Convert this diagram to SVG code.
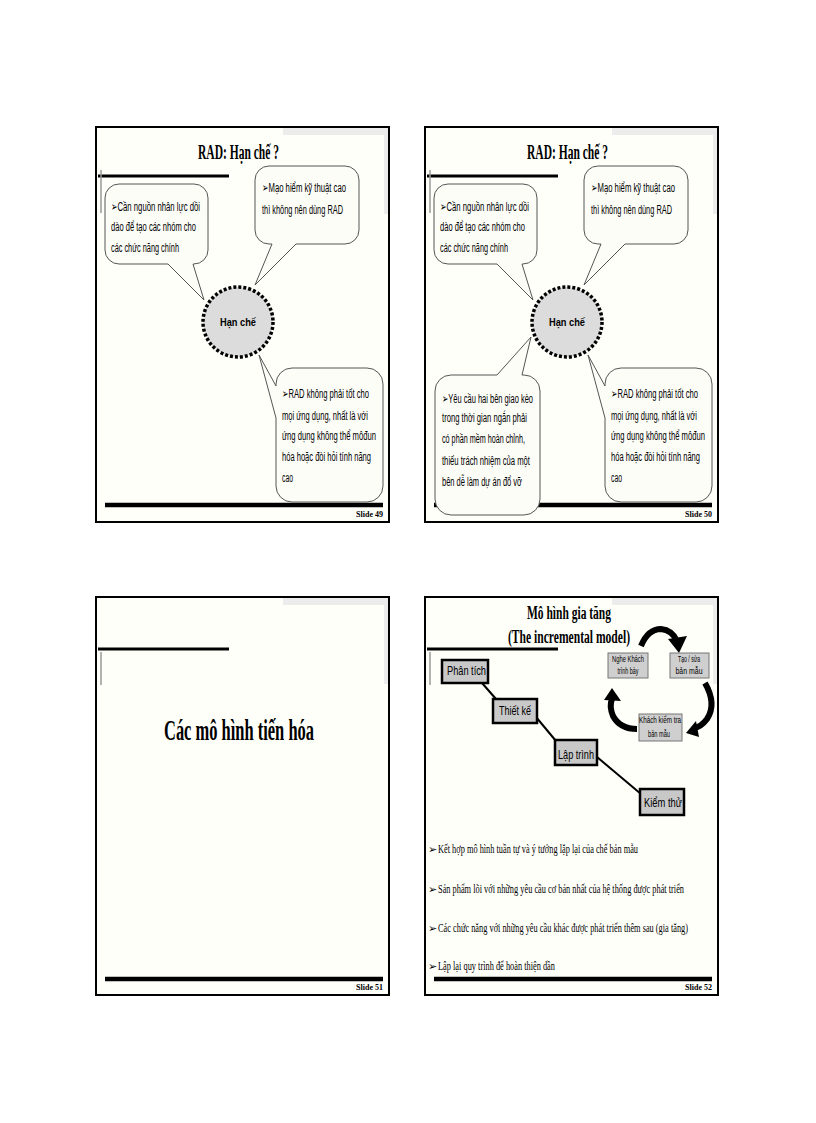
<svg xmlns="http://www.w3.org/2000/svg" width="816" height="1123" viewBox="0 0 816 1123">
<style>
.frame{fill:#fffffa;stroke:#000;stroke-width:2}
.tex{fill:#ececec}
.topline{stroke:#000;stroke-width:3}
.vline{stroke:#9a9a9a;stroke-width:1.5}
.foot{stroke:#000;stroke-width:4.5}
.slideno{font-family:"Liberation Serif",serif;font-weight:bold;font-size:8px;fill:#000}
.title{font-family:"Liberation Serif",serif;font-weight:bold;fill:#000}
.call{fill:#fdfdf8;stroke:#555;stroke-width:1}
.ct{font-family:"Liberation Sans","DejaVu Sans",sans-serif;font-size:12.5px;fill:#000}
.hub{fill:#dcdcdc;stroke:#000;stroke-width:3.5;stroke-dasharray:3 2}
.hubt{font-family:"Liberation Sans",sans-serif;font-weight:bold;font-size:11px;fill:#000}
.step{fill:#c8c8c8;stroke:#000;stroke-width:2.5}
.stept{font-family:"Liberation Sans",sans-serif;font-size:13px;fill:#000}
.cyc{fill:#cfcfcf;stroke:#777;stroke-width:1}
.cyct{font-family:"Liberation Sans",sans-serif;font-size:8.5px;fill:#000}
.conn{stroke:#000;stroke-width:2;fill:none}
.arc{stroke:#000;stroke-width:6;fill:none}
.bul{font-family:"Liberation Serif","DejaVu Serif",serif;font-size:12.5px;fill:#000}
.bm{font-family:"DejaVu Sans",sans-serif;font-size:11px;fill:#000}
</style>

<!-- Slide 49 -->
<g id="slide49">
  <rect class="frame" x="96" y="127" width="293" height="395"/>
  <rect class="tex" x="283" y="128" width="105" height="7"/>
  <rect class="tex" x="384" y="128" width="4" height="86"/>
  <line class="topline" x1="98" y1="176" x2="229" y2="176"/>
  <line class="vline" x1="101" y1="170" x2="101" y2="213"/>
  <text class="title" x="198" y="159" font-size="20" textLength="81" lengthAdjust="spacingAndGlyphs">RAD: Hạn chế ?</text>
  <line class="foot" x1="105" y1="505" x2="383" y2="505"/>
  <text class="slideno" x="383" y="517" text-anchor="end">Slide 49</text>
</g>
<g id="s49-callout-left">
  <path class="call" d="M119,184 H194 A14 14 0 0 1 208,198 V250 A14 14 0 0 1 194,264 H193 L204,300 L168,264 H119 A14 14 0 0 1 105,250 V198 A14 14 0 0 1 119,184 Z"/>
  <text class="ct" x="111" y="211" textLength="89" lengthAdjust="spacingAndGlyphs">➢Cần nguồn nhân lực dồi</text>
  <text class="ct" x="111" y="231" textLength="85" lengthAdjust="spacingAndGlyphs">dào để tạo các nhóm cho</text>
  <text class="ct" x="111" y="252" textLength="68" lengthAdjust="spacingAndGlyphs">các chức năng chính</text>
</g>
<g id="s49-callout-top">
  <path class="call" d="M269,166 H345 A14 14 0 0 1 359,180 V230 A14 14 0 0 1 345,244 H296 L255,285 L272,244 H269 A14 14 0 0 1 255,230 V180 A14 14 0 0 1 269,166 Z"/>
  <text class="ct" x="262" y="192" textLength="84" lengthAdjust="spacingAndGlyphs">➢Mạo hiểm kỹ thuật cao</text>
  <text class="ct" x="262" y="214" textLength="81" lengthAdjust="spacingAndGlyphs">thì không nên dùng RAD</text>
</g>
<g id="s49-callout-right">
  <path class="call" d="M292,368 H367 A16 16 0 0 1 383,384 V486 A16 16 0 0 1 367,502 H292 A16 16 0 0 1 276,486 V418 L259,355 L276,386 V384 A16 16 0 0 1 292,368 Z"/>
  <text class="ct" x="282" y="398" textLength="87" lengthAdjust="spacingAndGlyphs">➢RAD không phải tốt cho</text>
  <text class="ct" x="282" y="420" textLength="86" lengthAdjust="spacingAndGlyphs">mọi ứng dụng, nhất là với</text>
  <text class="ct" x="282" y="440" textLength="94" lengthAdjust="spacingAndGlyphs">ứng dụng không thể môđun</text>
  <text class="ct" x="282" y="461" textLength="89" lengthAdjust="spacingAndGlyphs">hóa hoặc đòi hỏi tính năng</text>
  <text class="ct" x="282" y="482" textLength="11" lengthAdjust="spacingAndGlyphs">cao</text>
</g>
<g id="s49-hub">
  <circle class="hub" cx="238" cy="322" r="35"/>
  <text class="hubt" x="238" y="326" text-anchor="middle" textLength="36" lengthAdjust="spacingAndGlyphs">Hạn chế</text>
</g>

<!-- Slide 50 -->
<g id="slide50">
  <rect class="frame" x="425" y="127" width="293" height="395"/>
  <rect class="tex" x="612" y="128" width="105" height="7"/>
  <rect class="tex" x="713" y="128" width="4" height="86"/>
  <line class="topline" x1="427" y1="176" x2="558" y2="176"/>
  <line class="vline" x1="430" y1="170" x2="430" y2="213"/>
  <text class="title" x="527" y="159" font-size="20" textLength="81" lengthAdjust="spacingAndGlyphs">RAD: Hạn chế ?</text>
  <line class="foot" x1="434" y1="505" x2="712" y2="505"/>
  <text class="slideno" x="712" y="517" text-anchor="end">Slide 50</text>
</g>
<g id="s50-callout-left">
  <path class="call" d="M448,184 H523 A14 14 0 0 1 537,198 V250 A14 14 0 0 1 523,264 H522 L533,300 L497,264 H448 A14 14 0 0 1 434,250 V198 A14 14 0 0 1 448,184 Z"/>
  <text class="ct" x="440" y="211" textLength="89" lengthAdjust="spacingAndGlyphs">➢Cần nguồn nhân lực dồi</text>
  <text class="ct" x="440" y="231" textLength="85" lengthAdjust="spacingAndGlyphs">dào để tạo các nhóm cho</text>
  <text class="ct" x="440" y="252" textLength="68" lengthAdjust="spacingAndGlyphs">các chức năng chính</text>
</g>
<g id="s50-callout-top">
  <path class="call" d="M598,166 H674 A14 14 0 0 1 688,180 V230 A14 14 0 0 1 674,244 H625 L584,285 L601,244 H598 A14 14 0 0 1 584,230 V180 A14 14 0 0 1 598,166 Z"/>
  <text class="ct" x="591" y="192" textLength="84" lengthAdjust="spacingAndGlyphs">➢Mạo hiểm kỹ thuật cao</text>
  <text class="ct" x="591" y="214" textLength="81" lengthAdjust="spacingAndGlyphs">thì không nên dùng RAD</text>
</g>
<g id="s50-callout-right">
  <path class="call" d="M621,368 H696 A16 16 0 0 1 712,384 V486 A16 16 0 0 1 696,502 H621 A16 16 0 0 1 605,486 V418 L588,355 L605,386 V384 A16 16 0 0 1 621,368 Z"/>
  <text class="ct" x="611" y="398" textLength="87" lengthAdjust="spacingAndGlyphs">➢RAD không phải tốt cho</text>
  <text class="ct" x="611" y="420" textLength="86" lengthAdjust="spacingAndGlyphs">mọi ứng dụng, nhất là với</text>
  <text class="ct" x="611" y="440" textLength="94" lengthAdjust="spacingAndGlyphs">ứng dụng không thể môđun</text>
  <text class="ct" x="611" y="461" textLength="89" lengthAdjust="spacingAndGlyphs">hóa hoặc đòi hỏi tính năng</text>
  <text class="ct" x="611" y="482" textLength="11" lengthAdjust="spacingAndGlyphs">cao</text>
</g>
<g id="s50-callout-bottom">
  <path class="call" d="M451,375 H497 L531,337 L522,375 H524 A16 16 0 0 1 540,391 V499 A16 16 0 0 1 524,515 H451 A16 16 0 0 1 435,499 V391 A16 16 0 0 1 451,375 Z"/>
  <text class="ct" x="442" y="403" textLength="91" lengthAdjust="spacingAndGlyphs">➢Yêu cầu hai bên giao kèo</text>
  <text class="ct" x="442" y="422" textLength="85" lengthAdjust="spacingAndGlyphs">trong thời gian ngắn phải</text>
  <text class="ct" x="442" y="443" textLength="83" lengthAdjust="spacingAndGlyphs">có phần mềm hoàn chỉnh,</text>
  <text class="ct" x="442" y="465" textLength="88" lengthAdjust="spacingAndGlyphs">thiếu trách nhiệm của một</text>
  <text class="ct" x="442" y="486" textLength="80" lengthAdjust="spacingAndGlyphs">bên dễ làm dự án đổ vỡ</text>
</g>
<g id="s50-hub">
  <circle class="hub" cx="567" cy="322" r="35"/>
  <text class="hubt" x="567" y="326" text-anchor="middle" textLength="36" lengthAdjust="spacingAndGlyphs">Hạn chế</text>
</g>

<!-- Slide 51 -->
<g id="slide51">
  <rect class="frame" x="96" y="597" width="293" height="398"/>
  <rect class="tex" x="283" y="598" width="105" height="7"/>
  <rect class="tex" x="384" y="598" width="4" height="86"/>
  <line class="topline" x1="98" y1="649" x2="229" y2="649"/>
  <line class="vline" x1="101" y1="652" x2="101" y2="685"/>
  <text class="title" x="164" y="740" font-size="30" textLength="150" lengthAdjust="spacingAndGlyphs">Các mô hình tiến hóa</text>
  <line class="foot" x1="105" y1="979" x2="383" y2="979"/>
  <text class="slideno" x="383" y="990" text-anchor="end">Slide 51</text>
</g>

<!-- Slide 52 -->
<g id="slide52">
  <rect class="frame" x="425" y="597" width="293" height="398"/>
  <rect class="tex" x="612" y="598" width="105" height="7"/>
  <rect class="tex" x="713" y="598" width="4" height="86"/>
  <line class="topline" x1="427" y1="649" x2="558" y2="649"/>
  <line class="vline" x1="430" y1="652" x2="430" y2="685"/>
  <text class="title" x="527" y="619" font-size="18" textLength="84" lengthAdjust="spacingAndGlyphs">Mô hình gia tăng</text>
  <text class="title" x="508" y="643" font-size="18" textLength="122" lengthAdjust="spacingAndGlyphs">(The incremental model)</text>
  <line class="foot" x1="434" y1="979" x2="712" y2="979"/>
  <text class="slideno" x="712" y="990" text-anchor="end">Slide 52</text>
</g>
<g id="connectors">
  <line class="conn" x1="482" y1="683" x2="496" y2="699"/>
  <line class="conn" x1="536" y1="717" x2="556" y2="741"/>
  <line class="conn" x1="597" y1="757" x2="641" y2="794"/>
  <path class="arc" d="M641,646 Q648,629 661,629 Q672,630 677,641"/>
  <polygon points="679,653 668,639 687,636"/>
  <path class="arc" d="M705,683 Q717,704 707,719 Q701,727 694,728"/>
  <polygon points="686,733 696,721 699,737"/>
  <path class="arc" d="M637,729 Q620,729 613,716 Q609,706 612,699"/>
  <polygon points="612,688 604,700 621,701"/>
</g>
<g id="n-phantich">
  <rect class="step" x="442" y="660" width="46" height="23"/>
  <text class="stept" x="447" y="675" textLength="39" lengthAdjust="spacingAndGlyphs">Phân tích</text>
</g>
<g id="n-thietke">
  <rect class="step" x="493" y="699" width="44" height="24"/>
  <text class="stept" x="499" y="715" textLength="32" lengthAdjust="spacingAndGlyphs">Thiết kế</text>
</g>
<g id="n-laptrinh">
  <rect class="step" x="555" y="740" width="42" height="25"/>
  <text class="stept" x="558" y="759" textLength="36" lengthAdjust="spacingAndGlyphs">Lập trình</text>
</g>
<g id="n-kiemthu">
  <rect class="step" x="640" y="789" width="44" height="26"/>
  <text class="stept" x="644" y="807" textLength="38" lengthAdjust="spacingAndGlyphs">Kiểm thử</text>
</g>
<g id="n-nghekhach">
  <rect class="cyc" x="608" y="653" width="40" height="25"/>
  <text class="cyct" x="628" y="662" text-anchor="middle" textLength="32" lengthAdjust="spacingAndGlyphs">Nghe Khách</text>
  <text class="cyct" x="628" y="674" text-anchor="middle" textLength="21" lengthAdjust="spacingAndGlyphs">trình bày</text>
</g>
<g id="n-taosua">
  <rect class="cyc" x="670" y="653" width="39" height="25"/>
  <text class="cyct" x="689" y="662" text-anchor="middle" textLength="22" lengthAdjust="spacingAndGlyphs">Tạo / sửa</text>
  <text class="cyct" x="689" y="674" text-anchor="middle" textLength="27" lengthAdjust="spacingAndGlyphs">bản mẫu</text>
</g>
<g id="n-khachkiemtra">
  <rect class="cyc" x="639" y="714" width="43" height="27"/>
  <text class="cyct" x="660" y="723" text-anchor="middle" textLength="42" lengthAdjust="spacingAndGlyphs">Khách kiểm tra</text>
  <text class="cyct" x="659" y="737" text-anchor="middle" textLength="22" lengthAdjust="spacingAndGlyphs">bản mẫu</text>
</g>
<g id="s52-bullets">
  <text class="bm" x="428" y="853">➢</text>
  <text class="bul" x="438" y="853" textLength="200" lengthAdjust="spacingAndGlyphs">Kết hợp mô hình tuần tự và ý tưởng lặp lại của chế bản mẫu</text>
  <text class="bm" x="428" y="893">➢</text>
  <text class="bul" x="438" y="893" textLength="246" lengthAdjust="spacingAndGlyphs">Sản phẩm lõi với những yêu cầu cơ bản nhất của hệ thống được phát triển</text>
  <text class="bm" x="428" y="932">➢</text>
  <text class="bul" x="438" y="932" textLength="250" lengthAdjust="spacingAndGlyphs">Các chức năng với những yêu cầu khác được phát triển thêm sau (gia tăng)</text>
  <text class="bm" x="428" y="970">➢</text>
  <text class="bul" x="438" y="970" textLength="117" lengthAdjust="spacingAndGlyphs">Lập lại quy trình để hoàn thiện dần</text>
</g>
</svg>
